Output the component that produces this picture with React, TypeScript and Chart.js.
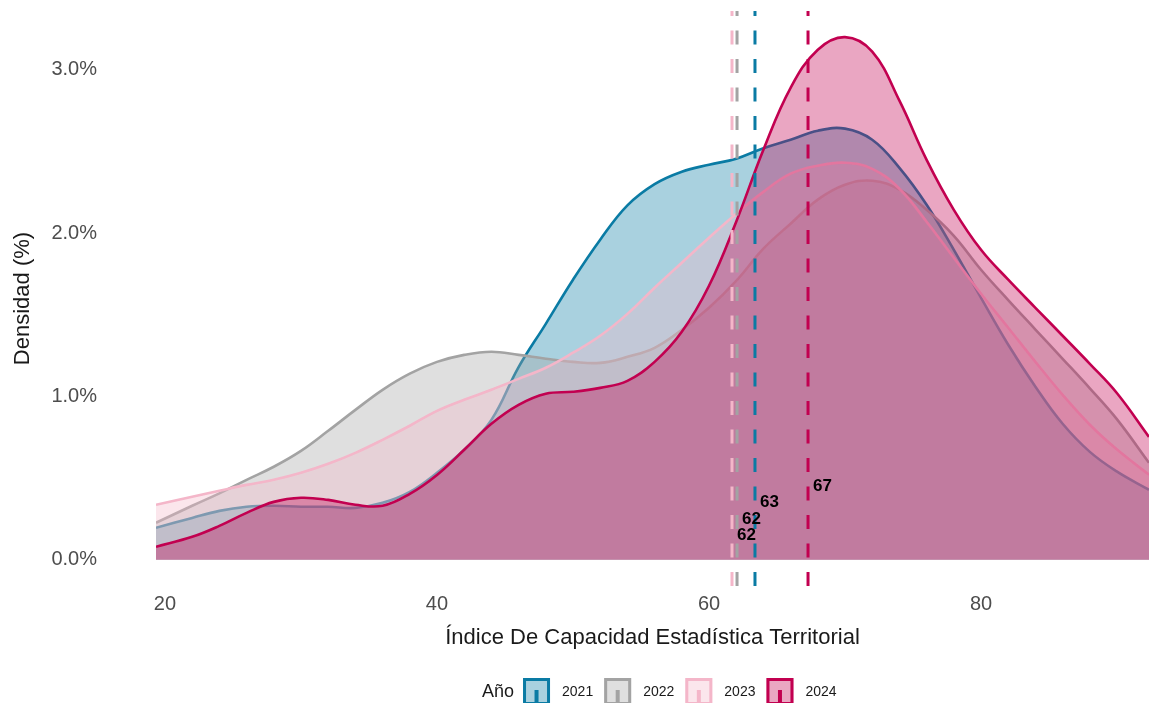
import React, { useEffect, useRef } from 'react';
import { Chart, registerables } from 'chart.js';

Chart.register(...registerables);

const FONT = "'Liberation Sans', Arial, Helvetica, sans-serif";

// ---- data ----
const years = ['2021', '2022', '2023', '2024'];
const colors = ['#0a7ba4', '#a3a3a3', '#f4b6c9', '#c20050'];

const xs = [19.34, 22, 24, 26, 28, 30, 32, 34, 36, 38, 40, 42, 44, 46, 48, 50, 52, 54, 56, 58, 60, 62, 64, 66, 68, 70, 72, 74, 76, 78, 80, 82, 84, 86, 88, 90, 92.35];

const dens2021 = [0.196, 0.257, 0.300, 0.325, 0.331, 0.325, 0.325, 0.318, 0.349, 0.416, 0.533, 0.674, 0.857, 1.180, 1.445, 1.715, 1.960, 2.170, 2.300, 2.376, 2.419, 2.456, 2.520, 2.572, 2.627, 2.640, 2.572, 2.400, 2.174, 1.898, 1.604, 1.317, 1.060, 0.833, 0.661, 0.540, 0.429];
const dens2022 = [0.227, 0.331, 0.407, 0.490, 0.570, 0.667, 0.790, 0.918, 1.041, 1.140, 1.212, 1.255, 1.274, 1.255, 1.231, 1.212, 1.206, 1.243, 1.298, 1.408, 1.543, 1.708, 1.905, 2.058, 2.205, 2.296, 2.321, 2.266, 2.143, 1.984, 1.776, 1.590, 1.410, 1.231, 1.050, 0.860, 0.594];
const dens2023 = [0.337, 0.386, 0.423, 0.459, 0.490, 0.533, 0.588, 0.655, 0.735, 0.821, 0.912, 0.980, 1.041, 1.108, 1.176, 1.268, 1.372, 1.506, 1.666, 1.819, 1.972, 2.119, 2.253, 2.364, 2.413, 2.431, 2.394, 2.272, 2.070, 1.849, 1.629, 1.421, 1.212, 1.010, 0.827, 0.675, 0.521];
const dens2024 = [0.080, 0.141, 0.208, 0.288, 0.355, 0.380, 0.367, 0.337, 0.331, 0.404, 0.520, 0.674, 0.833, 0.949, 1.017, 1.029, 1.053, 1.096, 1.212, 1.396, 1.678, 2.070, 2.511, 2.890, 3.123, 3.200, 3.111, 2.811, 2.449, 2.143, 1.898, 1.715, 1.543, 1.372, 1.200, 1.020, 0.753];

const means = [63.38, 62.06, 61.69, 67.28];
const meanLabels = ['63', '62', '62', '67'];
const meanLabelY = [0.35, 0.25, 0.15, 0.45];

const xTicks = [20, 40, 60, 80];
const yTicks = [0, 1, 2, 3];

const X_MIN = 19.34;
const X_MAX = 92.35;
const Y_MIN = -0.16;
const Y_MAX = 3.36;

const series = [dens2021, dens2022, dens2023, dens2024];

function rgba(hex: string, a: number) {
  const n = parseInt(hex.slice(1), 16);
  return `rgba(${(n >> 16) & 255}, ${(n >> 8) & 255}, ${n & 255}, ${a})`;
}

const meanLabelPlugin = {
  id: 'meanLabels',
  afterDatasetsDraw(chart: any) {
    const { ctx, scales } = chart;
    const x = scales.x;
    const y = scales.y;
    ctx.save();
    ctx.font = `bold 17px ${FONT}`;
    ctx.fillStyle = '#000';
    ctx.textAlign = 'left';
    ctx.textBaseline = 'middle';
    means.forEach((m, i) => {
      ctx.fillText(meanLabels[i], x.getPixelForValue(m) + 5, y.getPixelForValue(meanLabelY[i]));
    });
    ctx.restore();
  },
};

const legendPlugin = {
  id: 'ggLegend',
  afterDraw(chart: any) {
    const ctx = chart.ctx;
    ctx.save();
    const cy = 692;
    const top = 678;
    const k = 27;
    let xPos = 482;
    ctx.textBaseline = 'middle';
    ctx.textAlign = 'left';
    ctx.font = `18px ${FONT}`;
    ctx.fillStyle = '#1a1a1a';
    ctx.fillText('Año', xPos, cy);
    xPos += ctx.measureText('Año').width + 9;
    years.forEach((yr, i) => {
      ctx.fillStyle = rgba(colors[i], 0.35);
      ctx.fillRect(xPos, top, k, k);
      ctx.strokeStyle = colors[i];
      ctx.lineWidth = 3;
      ctx.strokeRect(xPos + 1.5, top + 1.5, k - 3, k - 3);
      ctx.fillStyle = colors[i];
      ctx.fillRect(xPos + k / 2 - 2, top + 12, 4, k - 12);
      ctx.font = `14px ${FONT}`;
      ctx.fillStyle = '#1a1a1a';
      ctx.fillText(yr, xPos + k + 12, cy);
      xPos += k + 12 + ctx.measureText(yr).width + 11;
    });
    ctx.restore();
  },
};

export default function App() {
  const ref = useRef<HTMLCanvasElement | null>(null);

  useEffect(() => {
    if (!ref.current) return;
    const areaSets = series.map((arr, i) => ({
      label: years[i],
      data: xs.map((x, j) => ({ x, y: arr[j] })),
      borderColor: colors[i],
      backgroundColor: rgba(colors[i], 0.35),
      borderWidth: 2.6,
      fill: 'origin',
      pointRadius: 0,
      tension: 0.4,
      order: 10 - i,
    }));
    const vlineSets = means.map((m, i) => ({
      label: 'Media ' + years[i],
      data: [
        { x: m, y: Y_MIN },
        { x: m, y: Y_MAX },
      ],
      borderColor: colors[i],
      borderWidth: 3,
      borderDash: [14, 14.5],
      pointRadius: 0,
      fill: false,
      tension: 0,
      order: i,
    }));

    const chart = new Chart(ref.current, {
      type: 'line',
      data: { datasets: [...areaSets, ...vlineSets] as any },
      options: {
        animation: false,
        responsive: false,
        events: [],
        layout: { padding: { top: 11, left: 0, right: 0, bottom: 0 } },
        plugins: {
          legend: { display: false },
          tooltip: { enabled: false },
        },
        scales: {
          x: {
            type: 'linear',
            min: X_MIN,
            max: X_MAX,
            grid: { display: false, drawTicks: false },
            border: { display: false },
            afterBuildTicks: (s: any) => {
              s.ticks = xTicks.map((v) => ({ value: v }));
            },
            afterFit: (s: any) => {
              s.height = 117;
              s.paddingLeft = 0;
              s.paddingRight = 0;
            },
            ticks: {
              font: { family: FONT, size: 20 },
              color: '#4d4d4d',
              padding: 6,
              maxRotation: 0,
              autoSkip: false,
              callback: (v: any) => String(v),
            },
            title: {
              display: true,
              text: 'Índice De Capacidad Estadística Territorial',
              font: { family: FONT, size: 22 },
              color: '#1a1a1a',
              padding: { top: 0, bottom: 52 },
            },
          },
          y: {
            type: 'linear',
            min: Y_MIN,
            max: Y_MAX,
            grid: { display: false, drawTicks: false },
            border: { display: false },
            afterBuildTicks: (s: any) => {
              s.ticks = yTicks.map((v) => ({ value: v }));
            },
            afterFit: (s: any) => {
              s.width = 156;
              s.paddingTop = 0;
              s.paddingBottom = 0;
            },
            ticks: {
              font: { family: FONT, size: 20 },
              color: '#4d4d4d',
              padding: 59,
              callback: (v: any) => Number(v).toFixed(1) + '%',
            },
            title: {
              display: true,
              text: 'Densidad (%)',
              font: { family: FONT, size: 22 },
              color: '#1a1a1a',
              padding: { top: 10, bottom: 0 },
            },
          },
        },
      } as any,
      plugins: [meanLabelPlugin, legendPlugin],
    });
    return () => chart.destroy();
  }, []);

  return (
    <div style={{ position: 'fixed', left: 0, top: 0, width: 1149, height: 703, background: '#fff' }}>
      <canvas ref={ref} width={1149} height={703} style={{ display: 'block' }} />
    </div>
  );
}
